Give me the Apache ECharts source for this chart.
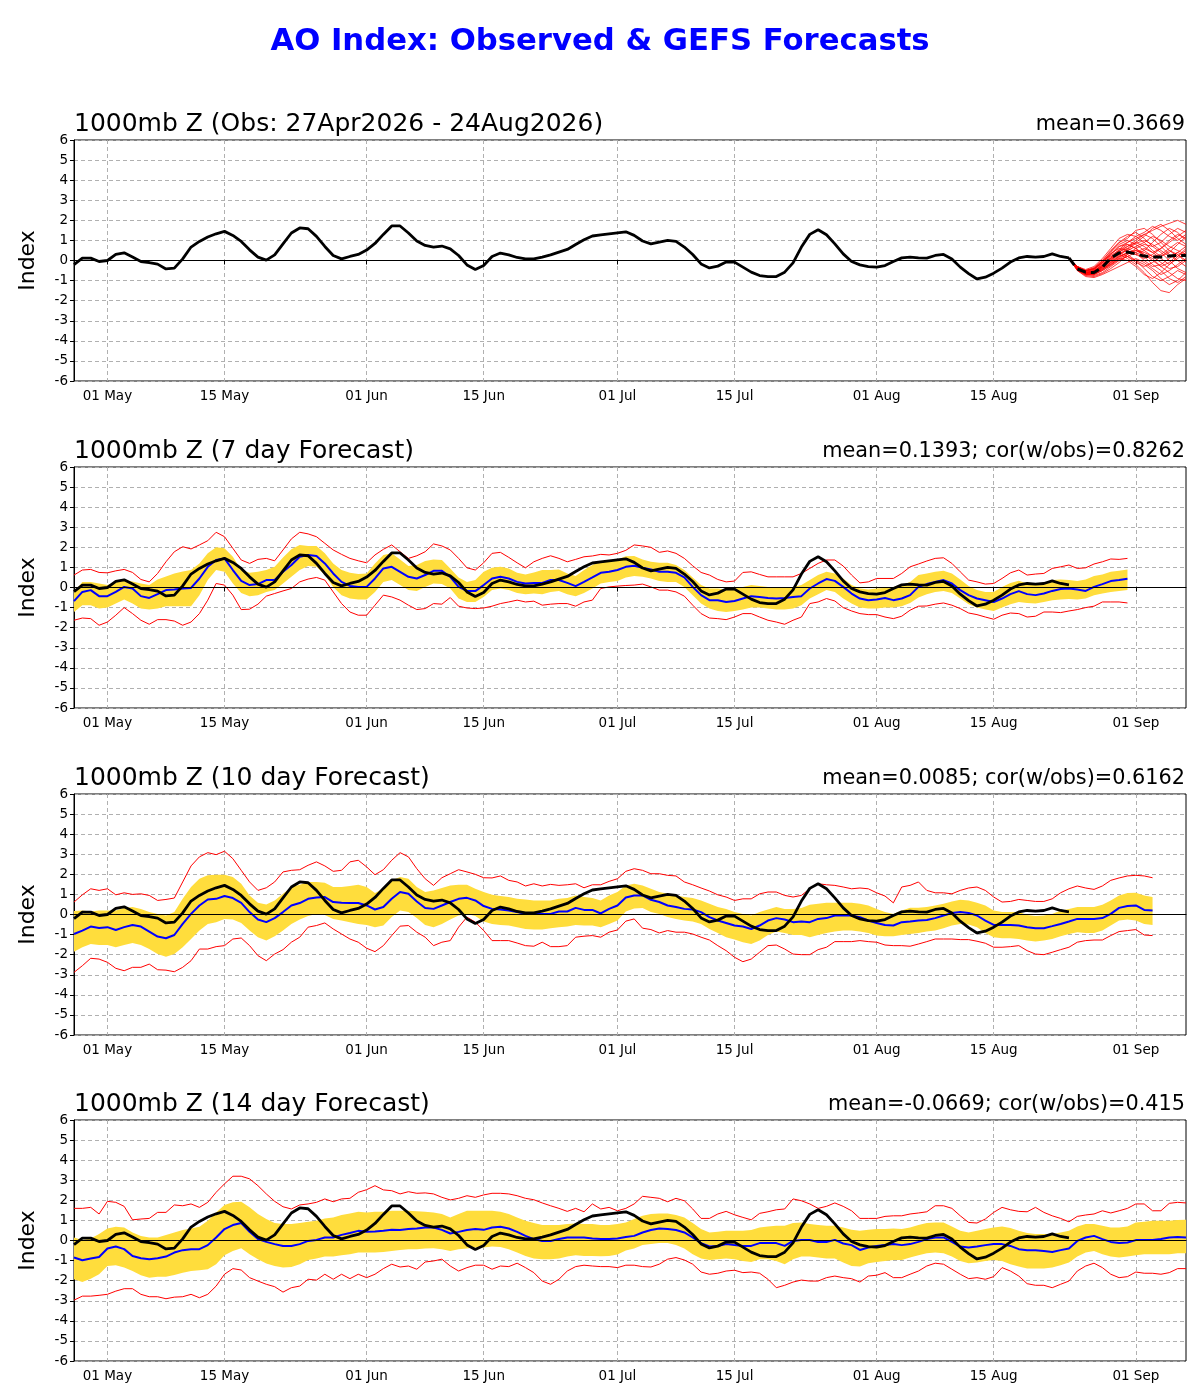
<!DOCTYPE html>
<html>
<head>
    <meta charset="utf-8" />
    <title>AO Index</title>
    <script src="https://cdn.jsdelivr.net/npm/echarts@6/dist/echarts.min.js"></script>
    <style>
        html, body { margin: 0; padding: 0; background: #fff; }
        #main { width: 1200px; height: 1400px; }
    </style>
</head>
<body>
<div id="main"></div>
<script type="text/javascript">
// ---- data ----
// day 0 = 27 Apr 2026, last day = 07 Sep 2026
const tickLabels = ['01 May', '15 May', '01 Jun', '15 Jun', '01 Jul', '15 Jul', '01 Aug', '15 Aug', '01 Sep'];
const yTicks = [-6, 6, 1];

// observed AO, 27 Apr - 24 Aug
const obs = [
    -0.2, 0.12, 0.12, -0.05, 0.0, 0.3, 0.38, 0.17, -0.05, -0.1,
    -0.18, -0.42, -0.38, 0.08, 0.67, 0.95, 1.17, 1.33, 1.45, 1.25,
    0.95, 0.53, 0.17, 0.02, 0.28, 0.83, 1.37, 1.62, 1.58, 1.2,
    0.7, 0.25, 0.08, 0.2, 0.3, 0.52, 0.85, 1.3, 1.72, 1.72,
    1.37, 0.97, 0.75, 0.67, 0.72, 0.58, 0.25, -0.22, -0.45, -0.25,
    0.2, 0.37, 0.28, 0.15, 0.08, 0.08, 0.17, 0.28, 0.42, 0.55,
    0.8, 1.03, 1.22, 1.28, 1.33, 1.38, 1.43, 1.25, 0.97, 0.83,
    0.92, 1.0, 0.95, 0.67, 0.3, -0.17, -0.37, -0.28, -0.08, -0.08,
    -0.33, -0.58, -0.75, -0.8, -0.8, -0.58, -0.12, 0.67, 1.3, 1.53,
    1.28, 0.83, 0.33, -0.05, -0.22, -0.3, -0.33, -0.25, -0.05, 0.13,
    0.17, 0.13, 0.12, 0.25, 0.3, 0.08, -0.33, -0.65, -0.92, -0.83,
    -0.63, -0.38, -0.08, 0.13, 0.2, 0.17, 0.2, 0.33, 0.2, 0.13
];

// GEFS 14-day ensemble from 24 Aug (day 119 .. 133)
const fcStart = 119;
const ensMean = [0.13, -0.42, -0.58, -0.6, -0.33, 0.12, 0.38, 0.42, 0.33, 0.22, 0.17, 0.17, 0.22, 0.25, 0.25];
const members = [
    [0.13, -0.35, -0.55, -0.45, -0.1, 0.3, 0.7, 0.9, 1.1, 1.3, 1.5, 1.7, 1.85, 2.0, 1.8],
    [0.13, -0.4, -0.65, -0.6, -0.3, 0.1, 0.5, 0.8, 0.6, 0.3, 0.1, -0.3, -0.6, -0.9, -1.0],
    [0.13, -0.3, -0.5, -0.35, 0.0, 0.5, 0.9, 1.2, 1.4, 1.1, 0.7, 0.9, 1.3, 1.6, 1.4],
    [0.13, -0.45, -0.7, -0.75, -0.6, -0.3, 0.0, 0.2, 0.4, 0.6, 0.4, 0.1, -0.2, 0.1, 0.4],
    [0.13, -0.35, -0.6, -0.55, -0.2, 0.2, 0.3, 0.1, -0.2, -0.6, -1.1, -1.5, -1.6, -1.2, -0.9],
    [0.13, -0.4, -0.6, -0.5, -0.25, 0.0, 0.4, 0.7, 1.0, 1.3, 1.1, 0.7, 0.3, 0.0, -0.3],
    [0.13, -0.3, -0.45, -0.3, 0.1, 0.6, 1.1, 1.3, 1.2, 0.9, 0.5, 0.2, 0.4, 0.8, 1.2],
    [0.13, -0.5, -0.8, -0.85, -0.7, -0.5, -0.3, -0.1, 0.1, -0.1, -0.4, -0.7, -0.5, -0.2, 0.1],
    [0.13, -0.35, -0.55, -0.4, -0.05, 0.35, 0.6, 0.5, 0.3, 0.5, 0.9, 1.3, 1.6, 1.4, 1.0],
    [0.13, -0.4, -0.7, -0.65, -0.4, -0.1, 0.2, 0.4, 0.5, 0.4, 0.2, 0.3, 0.6, 0.9, 0.7],
    [0.13, -0.45, -0.65, -0.7, -0.5, -0.2, 0.1, 0.3, 0.0, -0.4, -0.8, -1.0, -0.8, -0.5, -0.7],
    [0.13, -0.3, -0.5, -0.4, -0.1, 0.4, 0.8, 1.0, 0.8, 0.5, 0.2, -0.1, -0.4, -0.3, 0.0],
    [0.13, -0.4, -0.6, -0.6, -0.35, 0.0, 0.3, 0.6, 0.9, 1.2, 1.6, 1.8, 1.5, 1.1, 0.8],
    [0.13, -0.35, -0.6, -0.5, -0.3, 0.1, 0.4, 0.2, -0.1, -0.3, -0.1, 0.2, 0.5, 0.3, -0.1],
    [0.13, -0.5, -0.75, -0.8, -0.65, -0.4, -0.1, 0.3, 0.6, 0.8, 0.7, 0.4, 0.0, -0.4, -0.6],
    [0.13, -0.35, -0.5, -0.45, -0.15, 0.3, 0.7, 0.8, 0.6, 0.2, -0.2, -0.5, -0.9, -1.1, -0.8],
    [0.13, -0.4, -0.65, -0.55, -0.3, 0.05, 0.35, 0.5, 0.7, 0.9, 1.2, 1.0, 0.7, 0.5, 0.3],
    [0.13, -0.45, -0.7, -0.7, -0.45, -0.15, 0.15, 0.4, 0.3, 0.1, 0.3, 0.6, 0.9, 1.2, 1.5],
    [0.13, -0.3, -0.5, -0.4, 0.0, 0.45, 0.9, 1.1, 1.5, 1.6, 1.3, 0.9, 0.5, 0.2, 0.5],
    [0.13, -0.4, -0.6, -0.6, -0.4, -0.2, 0.1, 0.0, -0.3, -0.7, -0.9, -0.6, -0.2, 0.2, 0.6],
    [0.13, -0.38, -0.62, -0.58, -0.3, 0.1, 0.45, 0.6, 0.4, 0.0, -0.3, -0.2, 0.1, 0.4, 0.2],
    [0.13, -0.42, -0.68, -0.62, -0.35, -0.05, 0.25, 0.55, 0.85, 1.0, 0.8, 0.5, 0.2, 0.4, 0.7],
    [0.13, -0.33, -0.52, -0.42, -0.1, 0.25, 0.5, 0.7, 0.9, 0.7, 0.4, 0.6, 1.0, 1.3, 1.1],
    [0.13, -0.47, -0.72, -0.7, -0.5, -0.25, 0.05, 0.2, 0.0, -0.2, -0.5, -0.9, -1.2, -1.0, -0.6],
    [0.13, -0.36, -0.58, -0.5, -0.2, 0.15, 0.55, 0.9, 1.2, 1.4, 1.7, 1.5, 1.2, 1.0, 1.3],
    [0.13, -0.43, -0.66, -0.64, -0.45, -0.1, 0.2, 0.35, 0.5, 0.3, 0.0, -0.3, -0.1, 0.3, 0.0]
];

// 7 day forecast (day 0 .. 126)
const f7Mean = [
    -0.68, -0.22, -0.13, -0.43, -0.43, -0.22, 0.03, -0.05, -0.43, -0.52,
    -0.33, -0.13, -0.1, -0.05, -0.02, 0.45, 1.03, 1.37, 1.45, 0.87,
    0.33, 0.12, 0.17, 0.37, 0.37, 0.78, 1.12, 1.53, 1.62, 1.57,
    1.2, 0.7, 0.28, 0.08, 0.03, 0.03, 0.45, 0.95, 1.03, 0.78,
    0.53, 0.45, 0.62, 0.83, 0.83, 0.53, 0.03, -0.17, -0.18, 0.12,
    0.45, 0.53, 0.45, 0.28, 0.2, 0.23, 0.23, 0.37, 0.37, 0.23,
    0.07, 0.28, 0.5, 0.73, 0.78, 0.87, 1.03,
    1.08, 0.98, 0.9, 0.78, 0.78, 0.73, 0.5, 0.03, -0.38, -0.63,
    -0.63, -0.72, -0.67, -0.55, -0.43, -0.47, -0.52, -0.55, -0.52, -0.47,
    -0.43, -0.05, 0.2, 0.42, 0.33, 0.03, -0.3, -0.55, -0.63, -0.6,
    -0.52, -0.63, -0.55, -0.38, 0.03, 0.17, 0.28, 0.37, 0.2, -0.13,
    -0.38, -0.55, -0.63, -0.72, -0.55, -0.33, -0.18, -0.33, -0.38, -0.3,
    -0.17, -0.07, -0.05, -0.1, -0.17, 0.03, 0.17, 0.32, 0.37, 0.43
];
const f7Max = [
    0.62, 0.87, 0.9, 0.75, 0.73, 0.83, 0.9, 0.75, 0.4, 0.28,
    0.7, 1.28, 1.78, 2.03, 1.92, 2.12, 2.33, 2.75, 2.53, 1.95,
    1.37, 1.2, 1.4, 1.45, 1.33, 1.87, 2.42, 2.75, 2.67, 2.53,
    2.2, 1.87, 1.65, 1.45, 1.33, 1.23, 1.62, 1.9, 2.12, 1.78,
    1.45, 1.58, 1.78, 2.17, 2.07, 1.87, 1.45, 0.98, 0.87, 1.23,
    1.7, 1.75, 1.5, 1.23, 0.98, 1.28, 1.45, 1.58, 1.45, 1.28,
    1.4, 1.53, 1.57, 1.65, 1.62, 1.7, 1.85,
    2.12, 2.07, 2.0, 1.75, 1.82, 1.7, 1.45, 1.08, 0.75, 0.62,
    0.4, 0.28, 0.32, 0.75, 0.78, 0.65, 0.53, 0.53, 0.53, 0.53,
    0.7, 0.95, 1.2, 1.37, 1.37, 1.07, 0.62, 0.23, 0.28, 0.45,
    0.45, 0.45, 0.7, 1.03, 1.17, 1.32, 1.45, 1.48, 1.2, 0.78,
    0.37, 0.28, 0.17, 0.2, 0.45, 0.73, 0.87, 0.62, 0.67, 0.7,
    0.95, 1.03, 1.12, 0.95, 0.98, 1.17, 1.28, 1.42, 1.4, 1.45
];
const f7Min = [
    -1.63, -1.52, -1.55, -1.88, -1.72, -1.38, -1.0, -1.3, -1.63, -1.83,
    -1.6, -1.6, -1.67, -1.88, -1.72, -1.3, -0.63, 0.2, 0.12, -0.38,
    -1.1, -1.08, -0.83, -0.43, -0.3, -0.17, -0.05, 0.28, 0.42, 0.5,
    0.37, -0.22, -0.8, -1.22, -1.38, -1.38, -0.88, -0.38, -0.47, -0.63,
    -0.88, -1.1, -1.05, -0.8, -0.83, -0.5, -0.93, -1.02, -1.05, -1.02,
    -0.93, -0.8, -0.72, -0.63, -0.72, -0.68, -0.88, -0.83, -0.8, -0.8,
    -0.93, -0.72, -0.63, -0.05, 0.03, 0.07, 0.1,
    0.12, 0.17, 0.03, -0.13, -0.13, -0.22, -0.43, -0.88, -1.3, -1.52,
    -1.55, -1.6, -1.47, -1.3, -1.3, -1.47, -1.63, -1.72, -1.83, -1.63,
    -1.47, -0.8, -0.72, -0.55, -0.67, -1.0, -1.17, -1.3, -1.35, -1.35,
    -1.47, -1.55, -1.43, -1.13, -0.93, -0.92, -0.83, -0.77, -0.88, -1.05,
    -1.27, -1.35, -1.47, -1.58, -1.38, -1.27, -1.3, -1.47, -1.43, -1.22,
    -1.22, -1.25, -1.17, -1.1, -1.0, -0.93, -0.72, -0.72, -0.72, -0.77
];
const f7Hi = [
    -0.22, 0.28, 0.28, 0.2, 0.12, 0.25, 0.4, 0.3, 0.2, 0.12,
    0.4, 0.55, 0.7, 0.8, 0.87, 1.2, 1.7, 2.0, 1.95, 1.53,
    0.87, 0.73, 0.78, 0.87, 1.03, 1.5, 1.9, 2.12, 2.07, 2.07,
    1.7, 1.2, 0.87, 0.73, 0.67, 0.7, 1.2, 1.62, 1.7, 1.4,
    1.07, 1.12, 1.32, 1.4, 1.37, 0.95, 0.5, 0.28, 0.37, 0.78,
    0.98, 1.03, 0.95, 0.73, 0.65, 0.75, 0.87, 0.87, 0.9, 0.7,
    0.57, 0.87, 1.12, 1.28, 1.37, 1.4, 1.55,
    1.57, 1.4, 1.28, 1.23, 1.23, 1.12, 0.87, 0.5, 0.12, -0.05,
    -0.05, -0.1, -0.05, 0.03, 0.12, 0.07, 0.03, 0.0, -0.02, 0.03,
    0.12, 0.37, 0.62, 0.78, 0.7, 0.45, 0.12, -0.05, -0.1, -0.05,
    -0.02, 0.03, 0.12, 0.28, 0.62, 0.7, 0.78, 0.83, 0.7, 0.4,
    0.07, -0.13, -0.22, -0.22, 0.03, 0.23, 0.33, 0.2, 0.15, 0.23,
    0.37, 0.4, 0.37, 0.32, 0.4, 0.57, 0.65, 0.78, 0.83, 0.9
];
const f7Lo = [
    -1.22, -0.88, -0.88, -1.05, -1.0, -0.8, -0.6, -0.8, -1.05, -1.1,
    -1.05, -0.93, -0.93, -0.93, -0.93, -0.38, 0.37, 0.87, 0.78, 0.2,
    -0.27, -0.43, -0.38, -0.22, -0.13, 0.2, 0.53, 0.87, 1.07, 1.03,
    0.62, 0.03, -0.38, -0.55, -0.6, -0.6, -0.22, 0.28, 0.37, 0.12,
    -0.13, -0.17, 0.03, 0.2, 0.17, -0.05, -0.55, -0.72, -0.72, -0.47,
    -0.13, -0.05, -0.13, -0.27, -0.33, -0.3, -0.33, -0.22, -0.17, -0.33,
    -0.43, -0.27, -0.05, 0.2, 0.28, 0.32, 0.5,
    0.57, 0.53, 0.45, 0.32, 0.28, 0.28, 0.03, -0.38, -0.8, -1.05,
    -1.17, -1.22, -1.17, -1.1, -1.0, -1.0, -1.05, -1.1, -1.1, -1.05,
    -0.88, -0.55, -0.33, -0.13, -0.22, -0.55, -0.8, -1.0, -1.05, -1.05,
    -1.0, -1.0, -0.93, -0.77, -0.5, -0.33, -0.22, -0.17, -0.27, -0.55,
    -0.83, -1.0, -1.1, -1.17, -1.0, -0.83, -0.72, -0.77, -0.8, -0.72,
    -0.63, -0.6, -0.57, -0.6, -0.55, -0.38, -0.3, -0.22, -0.17, -0.13
];

// 10 day forecast (day 0 .. 129)
const f10Mean = [
    -0.97, -0.8, -0.6, -0.67, -0.63, -0.77, -0.63, -0.52, -0.6, -0.85,
    -1.1, -1.18, -1.02, -0.47, 0.03, 0.45, 0.75, 0.78, 0.92, 0.82,
    0.58, 0.12, -0.25, -0.38, -0.18, 0.12, 0.45, 0.57, 0.78, 0.85,
    0.87, 0.62, 0.58, 0.57, 0.57, 0.45, 0.25, 0.37, 0.78, 1.12,
    1.03, 0.65, 0.32, 0.28, 0.45, 0.62, 0.78, 0.83, 0.7, 0.42,
    0.28, 0.25, 0.2, 0.12, 0.03, 0.03, 0.03, 0.03, 0.15, 0.15,
    0.33, 0.23, 0.23, 0.05, 0.28, 0.45, 0.85,
    0.95, 0.95, 0.73, 0.62, 0.45, 0.37, 0.28, 0.25, 0.12, -0.13,
    -0.3, -0.42, -0.55, -0.6, -0.72, -0.55, -0.3, -0.18, -0.25, -0.38,
    -0.35, -0.38, -0.22, -0.18, -0.05, -0.05, -0.05, -0.13, -0.3, -0.42,
    -0.52, -0.55, -0.38, -0.35, -0.3, -0.27, -0.18, -0.05, 0.07, 0.12,
    0.08, -0.05, -0.3, -0.52, -0.52, -0.52, -0.55, -0.63, -0.68, -0.68,
    -0.58, -0.47, -0.35, -0.22, -0.22, -0.22, -0.18, 0.03, 0.33, 0.42,
    0.45, 0.23, 0.2
];
const f10Max = [
    0.62, 0.98, 1.28, 1.2, 1.28, 0.98, 1.08, 1.0, 1.03, 0.95,
    0.7, 0.75, 0.82, 1.62, 2.42, 2.87, 3.08, 2.98, 3.15, 2.78,
    2.2, 1.62, 1.2, 1.33, 1.62, 2.12, 2.2, 2.23, 2.45, 2.62,
    2.42, 2.15, 2.2, 2.62, 2.7, 2.37, 1.98, 2.23, 2.7, 3.08,
    2.87, 2.28, 1.78, 1.45, 1.83, 2.03, 2.23, 2.12, 2.0, 1.83,
    1.82, 1.92, 1.7, 1.62, 1.42, 1.53, 1.42, 1.5, 1.45, 1.48,
    1.53, 1.33, 1.48, 1.48, 1.65, 1.78, 2.15,
    2.28, 2.2, 2.03, 2.03, 1.95, 1.92, 1.62, 1.48, 1.32, 1.17,
    0.98, 0.87, 0.7, 0.78, 0.78, 1.03, 1.12, 1.12, 0.95, 0.87,
    0.95, 1.28, 1.53, 1.48, 1.45, 1.37, 1.28, 1.32, 1.28, 1.08,
    0.92, 0.58, 1.37, 1.45, 1.62, 1.2, 1.08, 1.08, 1.03, 1.2,
    1.32, 1.37, 1.2, 0.87, 0.62, 0.65, 0.75, 0.7, 0.65, 0.65,
    0.78, 1.08, 1.28, 1.42, 1.32, 1.25, 1.42, 1.7, 1.82, 1.92,
    1.95, 1.92, 1.83
];
const f10Min = [
    -2.88, -2.55, -2.18, -2.22, -2.38, -2.68, -2.8, -2.63, -2.63, -2.47,
    -2.75, -2.77, -2.85, -2.63, -2.3, -1.72, -1.72, -1.6, -1.55, -1.22,
    -1.17, -1.55, -2.05, -2.3, -1.97, -1.75, -1.38, -1.13, -0.63, -0.55,
    -0.42, -0.72, -0.97, -1.22, -1.38, -1.68, -1.85, -1.55, -1.05, -0.58,
    -0.55, -0.88, -1.13, -1.55, -1.38, -1.3, -0.63, -0.13, -0.38, -0.8,
    -1.3, -1.3, -1.3, -1.42, -1.55, -1.58, -1.38, -1.6, -1.6, -1.55,
    -1.13, -1.08, -1.05, -1.13, -0.88, -0.77, -0.33,
    -0.22, -0.68, -0.75, -0.92, -0.8, -0.88, -0.88, -0.97, -1.13, -1.27,
    -1.55, -1.8, -2.13, -2.35, -2.22, -1.88, -1.55, -1.52, -1.72, -1.97,
    -2.0, -2.0, -1.75, -1.63, -1.35, -1.35, -1.35, -1.3, -1.35, -1.38,
    -1.52, -1.55, -1.55, -1.58, -1.47, -1.35, -1.22, -1.22, -1.22, -1.25,
    -1.25, -1.33, -1.43, -1.63, -1.63, -1.6, -1.55, -1.8, -1.97, -2.0,
    -1.88, -1.75, -1.63, -1.38, -1.3, -1.27, -1.27, -1.05, -0.85, -0.8,
    -0.75, -1.02, -1.05
];
const f10Hi = [
    0.17, 0.2, 0.15, 0.2, 0.2, 0.2, 0.32, 0.37, 0.28, 0.12,
    0.03, -0.05, 0.12, 0.78, 1.37, 1.78, 1.95, 1.98, 1.98, 1.87,
    1.53, 0.95, 0.58, 0.5, 0.7, 1.03, 1.37, 1.48, 1.62, 1.62,
    1.58, 1.37, 1.37, 1.42, 1.48, 1.37, 1.07, 1.28, 1.7, 1.87,
    1.78, 1.37, 1.12, 1.2, 1.32, 1.45, 1.48, 1.48, 1.28, 1.12,
    0.98, 0.92, 0.87, 0.78, 0.75, 0.7, 0.7, 0.7, 0.78, 0.82,
    0.95, 0.87, 0.82, 0.7, 0.95, 1.12, 1.45,
    1.53, 1.45, 1.28, 1.12, 1.03, 0.95, 0.87, 0.82, 0.7, 0.53,
    0.37, 0.28, 0.12, 0.03, -0.05, 0.12, 0.25, 0.37, 0.28, 0.28,
    0.32, 0.48, 0.53, 0.58, 0.58, 0.58, 0.58, 0.53, 0.45, 0.28,
    0.12, 0.03, 0.2, 0.33, 0.33, 0.37, 0.45, 0.53, 0.65, 0.73,
    0.7, 0.58, 0.45, 0.2, 0.12, 0.12, 0.12, -0.02, -0.08, -0.05,
    0.03, 0.2, 0.28, 0.37, 0.37, 0.37, 0.48, 0.7, 0.95, 1.07,
    1.08, 0.95, 0.87
];
const f10Lo = [
    -1.85, -1.63, -1.47, -1.52, -1.52, -1.63, -1.52, -1.42, -1.52, -1.72,
    -1.97, -2.1, -1.97, -1.63, -1.22, -0.8, -0.47, -0.38, -0.22, -0.25,
    -0.42, -0.8, -1.13, -1.3, -1.08, -0.8, -0.47, -0.25, -0.08, 0.03,
    -0.02, -0.22, -0.3, -0.38, -0.47, -0.52, -0.63, -0.55, -0.13, 0.2,
    0.12, -0.18, -0.52, -0.63, -0.47, -0.25, -0.05, 0.03, -0.08, -0.35,
    -0.47, -0.52, -0.55, -0.63, -0.72, -0.75, -0.75, -0.68, -0.63, -0.6,
    -0.52, -0.55, -0.55, -0.63, -0.47, -0.3, 0.15,
    0.3, 0.32, 0.12, 0.03, -0.13, -0.22, -0.3, -0.35, -0.47, -0.72,
    -0.92, -1.13, -1.25, -1.38, -1.47, -1.3, -1.02, -0.85, -0.92, -1.02,
    -1.02, -1.13, -1.02, -0.92, -0.85, -0.8, -0.8, -0.85, -0.92, -1.05,
    -1.08, -1.08, -1.02, -0.97, -0.92, -0.85, -0.8, -0.68, -0.55, -0.47,
    -0.5, -0.63, -0.92, -1.13, -1.18, -1.18, -1.22, -1.3, -1.35, -1.3,
    -1.22, -1.08, -0.97, -0.88, -0.92, -0.92, -0.8, -0.55, -0.3, -0.25,
    -0.3, -0.47, -0.52
];

// 14 day forecast (day 0 .. 133)
const f14Mean = [
    -0.85, -0.98, -0.9, -0.82, -0.4, -0.3, -0.43, -0.77, -0.88, -0.93,
    -0.88, -0.8, -0.6, -0.48, -0.43, -0.43, -0.23, 0.15, 0.57, 0.77,
    0.87, 0.43, 0.07, -0.07, -0.18, -0.27, -0.27, -0.18, -0.02, 0.03,
    0.15, 0.15, 0.28, 0.37, 0.48, 0.43, 0.45, 0.48, 0.53, 0.52,
    0.57, 0.6, 0.65, 0.65, 0.53, 0.35, 0.43, 0.52, 0.57, 0.53,
    0.65, 0.68, 0.6, 0.43, 0.23, 0.07, -0.02, -0.02, 0.07, 0.15,
    0.15, 0.15, 0.1, 0.07, 0.07, 0.1, 0.17,
    0.23, 0.4, 0.52, 0.6, 0.57, 0.52, 0.4, 0.15, -0.13, -0.3,
    -0.27, -0.18, -0.23, -0.27, -0.27, -0.13, -0.13, -0.13, -0.27, -0.02,
    0.02, 0.02, -0.07, -0.07, 0.03, -0.15, -0.23, -0.47, -0.35, -0.27,
    -0.23, -0.18, -0.23, -0.18, -0.07, 0.07, 0.15, 0.15, -0.07, -0.3,
    -0.35, -0.3, -0.23, -0.18, -0.18, -0.27, -0.43, -0.48, -0.48, -0.52,
    -0.57, -0.48, -0.4, -0.02, 0.15, 0.23, 0.07, -0.07, -0.13, -0.1,
    0.02, 0.03, 0.03, 0.07, 0.15, 0.18, 0.15
];
const f14Max = [
    1.6, 1.6, 1.65, 1.32, 1.95, 1.9, 1.7, 1.03, 1.07, 1.1,
    1.4, 1.4, 1.77, 1.73, 1.82, 1.65, 1.9, 2.4, 2.82, 3.2,
    3.2, 3.07, 2.73, 2.32, 1.95, 1.68, 1.57, 1.77, 1.82, 1.9,
    2.07, 1.93, 2.07, 2.1, 2.4, 2.53, 2.73, 2.52, 2.48, 2.32,
    2.43, 2.35, 2.37, 2.32, 2.15, 2.02, 2.1, 2.23, 2.15, 2.27,
    2.35, 2.35, 2.32, 2.23, 2.1, 2.03, 1.87, 1.73, 1.6, 1.45,
    1.6, 1.43, 1.82, 1.57, 1.65, 1.48, 1.6,
    1.82, 2.2, 2.15, 2.1, 1.93, 2.1, 1.98, 1.57, 1.1, 1.1,
    1.32, 1.45, 1.28, 1.15, 1.03, 1.35, 1.43, 1.53, 1.57, 2.07,
    1.98, 1.82, 1.6, 1.7, 1.87, 1.7, 1.48, 1.1, 1.1, 1.1,
    1.2, 1.23, 1.23, 1.32, 1.37, 1.43, 1.73, 1.73, 1.6, 1.23,
    0.9, 0.87, 1.07, 1.4, 1.65, 1.53, 1.45, 1.43, 1.65, 1.4,
    1.23, 1.1, 0.93, 1.2, 1.27, 1.32, 1.48, 1.37, 1.48, 1.6,
    1.82, 1.82, 1.48, 1.48, 1.85, 1.9, 1.87
];
const f14Min = [
    -2.97, -2.77, -2.77, -2.73, -2.68, -2.52, -2.4, -2.4, -2.68, -2.8,
    -2.8, -2.9, -2.82, -2.8, -2.68, -2.85, -2.68, -2.27, -1.68, -1.4,
    -1.47, -1.85, -2.02, -2.18, -2.3, -2.57, -2.35, -2.27, -1.93, -1.97,
    -1.68, -1.93, -1.68, -1.9, -1.68, -1.85, -1.68, -1.4, -1.18, -1.32,
    -1.27, -1.43, -1.07, -1.02, -0.93, -1.27, -1.52, -1.35, -1.23, -1.23,
    -1.43, -1.27, -1.3, -1.13, -1.35, -1.6, -2.02, -2.18, -1.93, -1.52,
    -1.3, -1.23, -1.27, -1.3, -1.3, -1.35, -1.23,
    -1.23, -1.3, -1.32, -1.18, -0.93, -0.85, -0.97, -1.18, -1.57, -1.68,
    -1.63, -1.52, -1.48, -1.6, -1.57, -1.63, -1.93, -2.35, -2.23, -2.07,
    -1.97, -2.02, -2.02, -1.85, -1.77, -1.85, -1.9, -2.07, -1.77, -1.73,
    -1.6, -1.85, -1.85, -1.68, -1.52, -1.27, -1.13, -1.18, -1.43, -1.68,
    -1.9, -1.85, -1.93, -1.8, -1.35, -1.52, -1.77, -2.15, -2.23, -2.23,
    -2.35, -2.18, -2.02, -1.52, -1.27, -1.13, -1.35, -1.68, -1.85, -1.8,
    -1.57, -1.63, -1.63, -1.68, -1.6, -1.4, -1.4
];
const f14Hi = [
    0.15, 0.03, 0.1, 0.32, 0.6, 0.68, 0.65, 0.4, 0.23, 0.15,
    0.15, 0.27, 0.4, 0.52, 0.6, 0.68, 0.98, 1.4, 1.77, 1.9,
    1.93, 1.65, 1.32, 1.07, 0.87, 0.82, 0.82, 0.87, 0.93, 0.98,
    1.1, 1.15, 1.27, 1.35, 1.43, 1.4, 1.43, 1.43, 1.48, 1.48,
    1.48, 1.46, 1.43, 1.4, 1.32, 1.15, 1.32, 1.48, 1.48, 1.48,
    1.48, 1.43, 1.32, 1.15, 0.98, 0.87, 0.77, 0.77, 0.77, 0.82,
    0.85, 0.82, 0.82, 0.77, 0.77, 0.82, 0.9,
    1.07, 1.23, 1.32, 1.35, 1.35, 1.27, 1.15, 0.87, 0.57, 0.4,
    0.43, 0.48, 0.48, 0.48, 0.52, 0.65, 0.7, 0.73, 0.73, 0.87,
    0.9, 0.82, 0.77, 0.73, 0.73, 0.65, 0.53, 0.48, 0.53, 0.57,
    0.57, 0.6, 0.57, 0.65, 0.77, 0.87, 0.9, 0.9, 0.7, 0.48,
    0.4, 0.48, 0.57, 0.65, 0.7, 0.62, 0.48, 0.37, 0.32, 0.32,
    0.32, 0.4, 0.48, 0.7, 0.82, 0.82, 0.73, 0.65, 0.65, 0.7,
    0.9, 0.93, 0.98, 0.98, 0.98, 1.02, 1.03
];
const f14Lo = [
    -1.93, -2.07, -1.9, -1.68, -1.27, -1.23, -1.35, -1.52, -1.73, -1.85,
    -1.8, -1.8, -1.72, -1.6, -1.52, -1.48, -1.43, -1.18, -0.73, -0.52,
    -0.38, -0.68, -0.93, -1.15, -1.27, -1.35, -1.32, -1.18, -0.97, -0.9,
    -0.8, -0.8, -0.73, -0.68, -0.6, -0.6, -0.6, -0.57, -0.52, -0.47,
    -0.43, -0.43, -0.4, -0.38, -0.43, -0.52, -0.43, -0.4, -0.35, -0.35,
    -0.3, -0.32, -0.43, -0.6, -0.77, -0.9, -0.93, -0.93, -0.9, -0.8,
    -0.73, -0.77, -0.77, -0.78, -0.77, -0.7, -0.5,
    -0.4, -0.23, -0.18, -0.13, -0.13, -0.23, -0.4, -0.68, -0.9, -0.97,
    -0.93, -0.9, -0.93, -1.02, -1.07, -0.93, -0.93, -1.02, -1.18, -0.93,
    -0.8, -0.8, -0.85, -0.9, -0.9, -1.1, -1.27, -1.3, -1.13, -1.07,
    -1.02, -0.97, -0.97, -0.85, -0.73, -0.63, -0.6, -0.63, -0.8, -1.02,
    -1.13, -1.1, -1.02, -0.97, -1.02, -1.18, -1.3, -1.4, -1.4, -1.4,
    -1.35, -1.23, -1.1, -0.8, -0.6, -0.52, -0.68, -0.8, -0.85, -0.8,
    -0.73, -0.68, -0.68, -0.68, -0.68, -0.63, -0.63
];

const panelTitles = [
    '1000mb Z (Obs: 27Apr2026 - 24Aug2026)',
    '1000mb Z (7 day Forecast)',
    '1000mb Z (10 day Forecast)',
    '1000mb Z (14 day Forecast)'
];
const panelStats = [
    'mean=0.3669',
    'mean=0.1393; cor(w/obs)=0.8262',
    'mean=0.0085; cor(w/obs)=0.6162',
    'mean=-0.0669; cor(w/obs)=0.415'
];

// ---- layout ----
const FONT = 'DejaVu Sans';
const gridTops = [140, 467, 794, 1120];
const gridH = 241;
const YELLOW = '#ffdd3c';

// day labels along the axis
const MONTHS = ['Jan', 'Feb', 'Mar', 'Apr', 'May', 'Jun', 'Jul', 'Aug', 'Sep', 'Oct', 'Nov', 'Dec'];
const day0 = Date.UTC(2026, 3, 27);
const days = [];
for (let i = 0; i <= 133; i++) {
    const d = new Date(day0 + i * 86400000);
    days.push(String(d.getUTCDate()).padStart(2, '0') + ' ' + MONTHS[d.getUTCMonth()]);
}
const onTick = (idx, val) => tickLabels.indexOf(val) >= 0;

const grids = gridTops.map(t => ({
    left: 74, right: 14, top: t, height: gridH,
    show: true, borderColor: '#000', borderWidth: 1, backgroundColor: 'transparent'
}));

const xAxes = gridTops.map((t, k) => ({
    type: 'category', gridIndex: k, data: days, boundaryGap: false,
    axisLine: {show: true, lineStyle: {color: '#000', width: 1}},
    axisTick: {show: true, interval: onTick, length: 4, lineStyle: {color: '#000'}},
    axisLabel: {interval: onTick, color: '#000', fontFamily: FONT, fontSize: 13.5, margin: 8},
    splitLine: {show: true, interval: onTick, lineStyle: {color: '#b0b0b0', type: [4, 3], width: 1}}
}));

const yAxes = gridTops.map((t, k) => ({
    type: 'value', gridIndex: k, min: yTicks[0], max: yTicks[1], interval: yTicks[2],
    name: 'Index', nameLocation: 'middle', nameGap: 35, nameRotate: 90,
    nameTextStyle: {color: '#000', fontFamily: FONT, fontSize: 22},
    axisLine: {show: true, lineStyle: {color: '#000', width: 1}},
    axisTick: {show: true, length: 4, lineStyle: {color: '#000'}},
    axisLabel: {color: '#000', fontFamily: FONT, fontSize: 13.5, margin: 6},
    splitLine: {show: true, lineStyle: {color: '#b0b0b0', type: [4, 3], width: 1}}
}));

const titles = [{
    text: 'AO Index: Observed & GEFS Forecasts', left: 'center', top: 27, padding: 0,
    textStyle: {color: '#0000ff', fontFamily: FONT, fontSize: 30.7, fontWeight: 'bold'}
}];
gridTops.forEach((t, k) => {
    titles.push({
        text: panelTitles[k], left: 74, top: t - 28, padding: 0,
        textStyle: {color: '#000', fontFamily: FONT, fontSize: 25, fontWeight: 'normal'}
    });
    titles.push({
        text: panelStats[k], right: 15, top: t - 26, padding: 0,
        textStyle: {color: '#000', fontFamily: FONT, fontSize: 20.8, fontWeight: 'normal'}
    });
});

const zeroLine = {
    silent: true, symbol: 'none', label: {show: false},
    lineStyle: {color: '#000', width: 1, type: 'solid'},
    data: [{yAxis: 0}]
};

const line = (k, data, color, width, extra) => Object.assign({
    type: 'line', xAxisIndex: k, yAxisIndex: k, data: data,
    symbol: 'none', smooth: false, silent: true,
    lineStyle: {color: color, width: width}
}, extra || {});

const series = [];

// panel 1: observed + ensemble spaghetti
members.forEach(m => {
    series.push(line(0, m.map((v, j) => [fcStart + j, v]), 'rgba(255,0,0,0.75)', 1));
});
series.push(line(0, obs, '#000', 2.8, {markLine: zeroLine}));
series.push(line(0, ensMean.map((v, j) => [fcStart + j, v]), '#000', 3,
    {lineStyle: {color: '#000', width: 3, type: [9, 5]}}));

// panels 2-4: band, min/max, mean, observed
const fc = [
    [f7Lo, f7Hi, f7Min, f7Max, f7Mean],
    [f10Lo, f10Hi, f10Min, f10Max, f10Mean],
    [f14Lo, f14Hi, f14Min, f14Max, f14Mean]
];
fc.forEach((f, n) => {
    const k = n + 1;
    const [lo, hi, mn, mx, mean] = f;
    series.push(line(k, lo, YELLOW, 0, {
        stack: 'band' + k, stackStrategy: 'all', lineStyle: {opacity: 0}
    }));
    series.push(line(k, hi.map((v, i) => +(v - lo[i]).toFixed(3)), YELLOW, 0, {
        stack: 'band' + k, stackStrategy: 'all', lineStyle: {opacity: 0},
        areaStyle: {color: YELLOW, opacity: 1}
    }));
    series.push(line(k, mx, '#ff0000', 1));
    series.push(line(k, mn, '#ff0000', 1));
    series.push(line(k, mean, '#0000ff', 2));
    series.push(line(k, obs, '#000', 2.8, {markLine: zeroLine}));
});

const chart = echarts.init(document.getElementById('main'), null, {renderer: 'canvas'});
chart.setOption({
    animation: false,
    backgroundColor: '#fff',
    title: titles,
    grid: grids,
    xAxis: xAxes,
    yAxis: yAxes,
    series: series
});
</script>
</body>
</html>
